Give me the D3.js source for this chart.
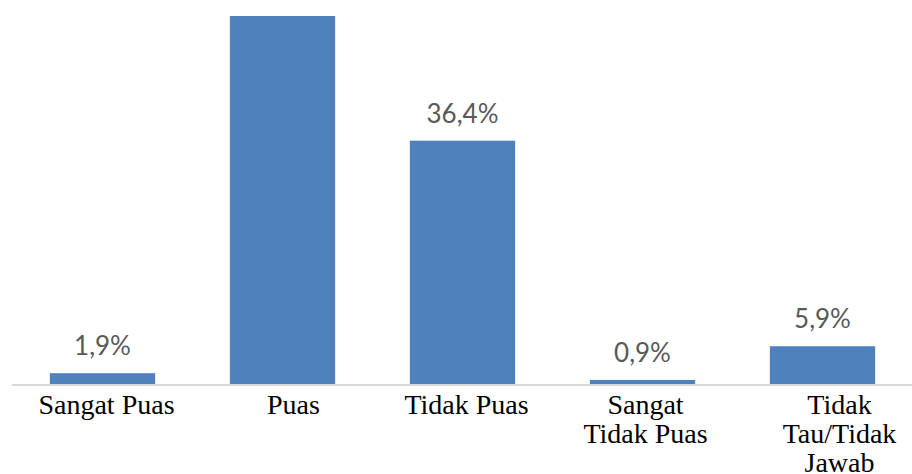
<!DOCTYPE html>
<html>
<head>
<meta charset="utf-8">
<script src="https://cdn.jsdelivr.net/npm/d3@7"></script>
<style>
  html, body { margin: 0; padding: 0; background: #ffffff; }
  svg { display: block; }
</style>
</head>
<body>
<svg id="chart" width="912" height="474"></svg>
<script>
// Survey response shares (%)
const categories = ["Sangat Puas", "Puas", "Tidak Puas", "Sangat Tidak Puas", "Tidak Tau/Tidak Jawab"];
const categoryLines = [["Sangat Puas"], ["Puas"], ["Tidak Puas"], ["Sangat", "Tidak Puas"], ["Tidak", "Tau/Tidak", "Jawab"]];
const values = [1.9, 54.9, 36.4, 0.9, 5.9];
const valueLabels = ["1,9%", null, "36,4%", "0,9%", "5,9%"];

// Horizontal nudge of each category label relative to its bar centre
const labelShift = [4, 11, 4, 3, 17];

const svg = d3.select("#chart");
const zeroY = 386;

const x = d3.scaleBand()
  .domain(categories)
  .range([12.5, 912.5])
  .paddingInner(0.415)
  .paddingOuter(0.2075);

const y = d3.scaleLinear()
  .domain([0, 54.9])
  .range([zeroY, 16]);

// Bars
svg.append("g")
  .selectAll("rect")
  .data(categories)
  .join("rect")
  .attr("x", d => x(d))
  .attr("y", (d, i) => y(values[i]))
  .attr("width", x.bandwidth())
  .attr("height", (d, i) => zeroY - y(values[i]))
  .attr("fill", "#4f81bd");

// Category axis line
svg.append("line")
  .attr("x1", 12).attr("x2", 912)
  .attr("y1", 385).attr("y2", 385)
  .attr("stroke", "#d9d9d9")
  .attr("stroke-width", 2);

// Value labels
svg.append("g")
  .selectAll("text")
  .data(categories.filter((d, i) => valueLabels[i] !== null))
  .join("text")
  .attr("x", d => x(d) + x.bandwidth() / 2)
  .attr("y", d => y(values[categories.indexOf(d)]) - 18)
  .attr("text-anchor", "middle")
  .attr("font-family", "Lato, 'Open Sans', sans-serif")
  .attr("font-size", 26)
  .attr("fill", "#595959")
  .text(d => valueLabels[categories.indexOf(d)]);

// Category labels
const catG = svg.append("g");
categories.forEach((c, i) => {
  const cx = x(c) + x.bandwidth() / 2 + labelShift[i];
  const t = catG.append("text")
    .attr("x", cx)
    .attr("y", 414)
    .attr("text-anchor", "middle")
    .attr("font-family", "'Liberation Serif', 'Times New Roman', serif")
    .attr("font-size", 28)
    .attr("fill", "#000000");
  categoryLines[i].forEach((line, j) => {
    t.append("tspan")
      .attr("x", cx)
      .attr("dy", j === 0 ? 0 : 29)
      .text(line);
  });
});
</script>
</body>
</html>
